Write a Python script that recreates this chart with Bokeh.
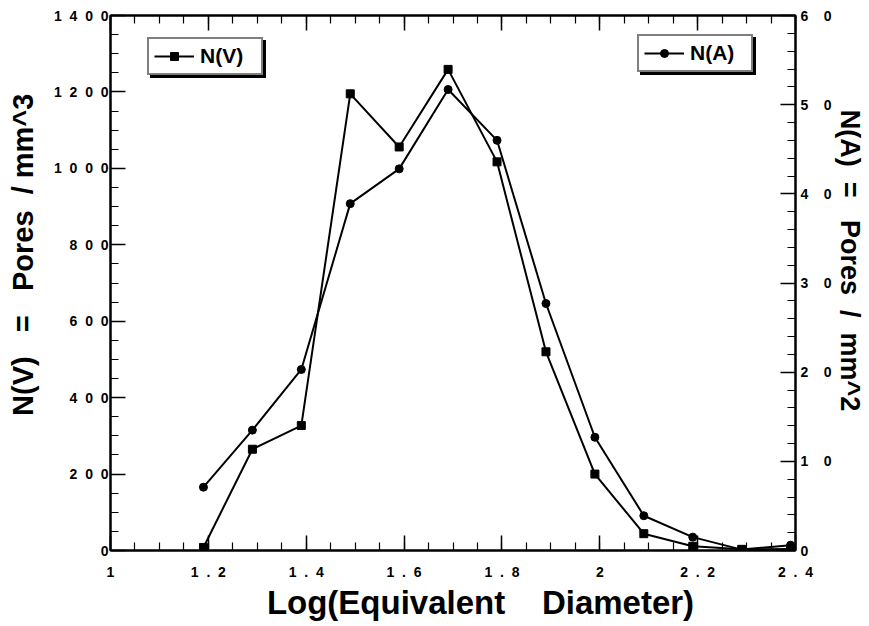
from bokeh.plotting import figure
from bokeh.models import Range1d, LinearAxis, FixedTicker, Legend, LegendItem
from bokeh.embed import file_html
from bokeh.resources import INLINE

# ---- data ----
log_d = [1.19, 1.29, 1.39, 1.49, 1.59, 1.69, 1.79, 1.89, 1.99, 2.09, 2.19, 2.29, 2.39]
n_v = [8, 265, 327, 1195, 1056, 1259, 1017, 520, 200, 44, 11, 3, 4]
n_a = [7.1, 13.5, 20.3, 38.9, 42.8, 51.7, 46.0, 27.7, 12.7, 3.9, 1.5, 0.1, 0.6]

S = "\u00a0"
x_ticks = [1, 1.2, 1.4, 1.6, 1.8, 2, 2.2, 2.4]
x_tick_text = ["1", "1.2", "1.4", "1.6", "1.8", "2", "2.2", "2.4"]
y_ticks = [0, 200, 400, 600, 800, 1000, 1200, 1400]
y_tick_text = ["0", "200", "400", "600", "800", "1000", "1200", "1400"]
y2_ticks = [0, 10, 20, 30, 40, 50, 60]
y2_tick_text = ["0", "10", "20", "30", "40", "50", "60"]


def spaced(s, n):
    return (S * n).join(list(s))


x_tick_labels = [spaced(t, 2) for t in x_tick_text]
y_tick_labels = [spaced(t, 2) for t in y_tick_text]
y2_tick_labels = [spaced(t, 4) for t in y2_tick_text]

FONT = "Liberation Sans"

p = figure(width=867, height=624, x_range=Range1d(1, 2.4), y_range=Range1d(0, 1400),
           output_backend="svg", toolbar_location=None,
           min_border_left=110, min_border_right=67, min_border_top=15, min_border_bottom=74)
p.extra_y_ranges = {"a": Range1d(0, 60)}
p.xgrid.visible = False
p.ygrid.visible = False
p.outline_line_color = "black"
p.outline_line_width = 2
p.background_fill_color = "white"
p.border_fill_color = "white"


def style(ax, ticks, minor, labels, show_labels=True):
    ax.ticker = FixedTicker(ticks=ticks, minor_ticks=minor)
    ax.major_label_overrides = {t: l for t, l in zip(ticks, labels)}
    ax.axis_line_color = "black"
    ax.axis_line_width = 2
    ax.major_tick_in = 15
    ax.major_tick_out = 0
    ax.minor_tick_in = 8
    ax.minor_tick_out = 0
    ax.major_tick_line_width = 1.5
    ax.minor_tick_line_width = 1.2
    ax.major_tick_line_color = "black"
    ax.minor_tick_line_color = "black"
    ax.major_label_text_font = FONT
    ax.major_label_text_font_style = "bold"
    ax.major_label_text_font_size = "14px"
    ax.major_label_text_color = "black" if show_labels else None
    ax.axis_label_text_font = FONT
    ax.axis_label_text_font_style = "bold"
    ax.axis_label_text_color = "black"


x_minor = [1 + 0.05 * i for i in range(29)]
style(p.xaxis[0], x_ticks, x_minor, x_tick_labels)
p.xaxis[0].axis_label = S * 6 + "Log(Equivalent" + S * 4 + "Diameter)"
p.xaxis[0].axis_label_text_font_size = "33px"
p.xaxis[0].major_label_standoff = 13
p.xaxis[0].axis_label_standoff = 1

style(p.yaxis[0], y_ticks, list(range(0, 1401, 50)), y_tick_labels)
p.yaxis[0].axis_label = S * 7 + "N(V)" + S * 3 + "=" + S * 3 + "Pores" + S * 2 + "/" + S + "mm^3"
p.yaxis[0].axis_label_text_font_size = "29px"
p.yaxis[0].major_label_standoff = 2
p.yaxis[0].axis_label_standoff = 12

right = LinearAxis(y_range_name="a")
style(right, y2_ticks, list(range(0, 61, 2)), y2_tick_labels)
right.axis_label = "N(A)" + S * 2 + "=" + S * 3 + "Pores" + S * 2 + "/" + S * 2 + "mm^2" + S * 6
right.axis_label_text_font_size = "27px"
right.major_label_standoff = 5
right.axis_label_standoff = 0
p.add_layout(right, "right")

top = LinearAxis()
style(top, x_ticks, x_minor, x_tick_labels, show_labels=False)
top.major_label_text_font_size = "0px"
top.major_label_standoff = 0
p.add_layout(top, "above")

l1 = p.line(log_d, n_v, line_color="black", line_width=2)
s1 = p.scatter(log_d, n_v, marker="square", size=8, fill_color="black", line_color="black")
l2 = p.line(log_d, n_a, line_color="black", line_width=2, y_range_name="a")
s2 = p.scatter(log_d, n_a, marker="circle", size=8, fill_color="black", line_color="black",
               y_range_name="a")


def make_legend(label, rends, loc, shadow=False):
    lg = Legend(items=[LegendItem(label=S if shadow else label, renderers=rends)], location=loc,
                orientation="horizontal")
    lg.border_line_color = "black"
    lg.border_line_width = 2
    lg.background_fill_color = "black" if shadow else "white"
    lg.background_fill_alpha = 1
    lg.label_text_font = FONT
    lg.label_text_font_style = "bold"
    lg.label_text_font_size = "21px"
    lg.label_text_color = "black"
    lg.glyph_width = 40
    lg.glyph_height = 20
    lg.label_standoff = 6
    lg.label_width = 56
    lg.label_height = 20
    lg.padding = 5
    lg.margin = 0
    lg.spacing = 0
    return lg


p.add_layout(make_legend("N(V)", [l1, s1], (40, 472), shadow=True))
p.add_layout(make_legend("N(V)", [l1, s1], (37, 475)))
p.add_layout(make_legend("N(A)", [l2, s2], (530, 475), shadow=True))
p.add_layout(make_legend("N(A)", [l2, s2], (527, 478)))

open("out.html", "w").write(file_html(p, INLINE))
